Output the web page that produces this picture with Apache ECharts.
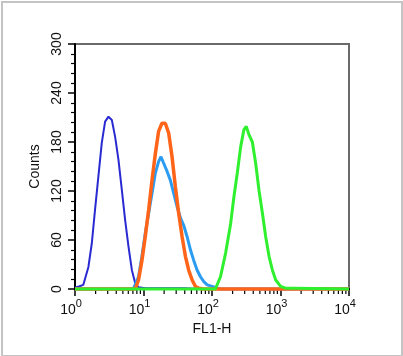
<!DOCTYPE html>
<html>
<head>
<meta charset="utf-8">
<script src="https://cdn.jsdelivr.net/npm/echarts@6/dist/echarts.min.js"></script>
<style>
html,body{margin:0;padding:0;background:#fff;}
#frame{position:absolute;left:1px;top:1px;width:398px;height:352px;border:2px solid #c4c4c4;}
#chart{position:absolute;left:0;top:0;width:403px;height:356px;}
</style>
</head>
<body>
<div id="frame"></div>
<div id="chart"></div>
<script>
// FL1-H channel values (log scale) and counts for each histogram
const darkBlueX = [1.0, 1.14, 1.32, 1.57, 1.76, 1.96, 2.19, 2.46, 2.75, 3.08, 3.45, 3.86, 4.31, 4.83, 5.40, 6.04, 6.77, 7.57, 8.46, 10.6, 20, 40, 70, 10000];
const darkBlueY = [2, 3, 5, 27, 56, 97, 137, 179, 205, 211, 207, 186, 158, 121, 84, 52, 23, 7, 2, 1, 1, 1, 0, 0];

const lightBlueX = [1.0, 7.08, 8.46, 9.49, 10.6, 11.9, 13.3, 14.9, 16.6, 18.0, 19.7, 22.1, 24.7, 27.6, 30.9, 34.6, 38.6, 43.3, 48.4, 54.1, 60.7, 67.9, 75.9, 85.1, 112, 133, 10000];
const lightBlueY = [0, 0, 15, 40, 68, 93, 117, 142, 156, 162, 154, 144, 133, 117, 101, 87, 78, 64, 48, 35, 23, 15, 9, 5, 2, 0, 0];

const orangeX = [1.0, 7.57, 8.46, 9.49, 10.6, 11.9, 13.3, 14.9, 16.6, 18.6, 20.8, 23.3, 26.1, 29.2, 32.6, 36.6, 40.9, 45.7, 51.3, 57.3, 64.1, 75, 10000];
const orangeY = [0, 0, 11, 35, 64, 97, 133, 166, 193, 203, 203, 191, 162, 125, 93, 64, 40, 23, 11, 3, 1, 0, 0];

const greenX = [1.0, 112, 133, 158, 187, 209, 234, 262, 292, 317, 346, 388, 434, 485, 544, 608, 680, 762, 852, 1010, 1194, 1600, 10000];
const greenY = [0, 0, 15, 44, 80, 113, 142, 174, 195, 199, 189, 180, 154, 121, 93, 64, 40, 23, 11, 3, 1, 1, 0];

const yTicks = [0, 60, 120, 180, 240, 300];
const xMinorTicks = [2,3,4,5,6,7,8,9,20,30,40,50,60,70,80,90,200,300,400,500,600,700,800,900,2000,3000,4000,5000,6000,7000,8000,9000];

function pairs(xs, ys) { return xs.map((x, i) => [x, ys[i]]); }

const chart = echarts.init(document.getElementById('chart'), null, {renderer: 'canvas'});
const font = 'Liberation Sans, Arial, sans-serif';

function lineSeries(name, xs, ys, color, width) {
  return {
    name: name, type: 'line', data: pairs(xs, ys), showSymbol: false, symbol: 'none',
    clip: false, animation: false,
    lineStyle: {color: color, width: width}
  };
}

chart.setOption({
  animation: false,
  backgroundColor: 'transparent',
  grid: {left: 75, top: 44, right: 54, bottom: 67, show: true, borderColor: '#6a6a6a', borderWidth: 2, backgroundColor: 'transparent'},
  xAxis: {
    type: 'log', logBase: 10, min: 1, max: 10000,
    name: 'FL1-H', nameLocation: 'middle', nameGap: 29,
    nameTextStyle: {fontFamily: font, fontSize: 14, color: '#111'},
    axisLine: {show: true, lineStyle: {color: '#000', width: 2}},
    axisTick: {show: true, inside: false, length: 7, lineStyle: {color: '#000', width: 1.5}},
    splitLine: {show: false},
    minorTick: {show: false},
    axisLabel: {
      margin: 9,
      fontFamily: font, fontSize: 14, color: '#111',
      padding: [0, 8, 0, 0],
      formatter: function (v) { return '{b|10}{s|' + Math.round(Math.log10(v)) + '}'; },
      rich: {
        b: {fontFamily: font, fontSize: 14, color: '#111', verticalAlign: 'bottom', lineHeight: 19},
        s: {fontFamily: font, fontSize: 11, color: '#111', verticalAlign: 'top', lineHeight: 19, padding: [0, 0, 7, 0]}
      }
    }
  },
  yAxis: {
    type: 'value', min: 0, max: 300, interval: 60,
    name: 'Counts', nameLocation: 'middle', nameGap: 29, nameRotate: 90,
    nameTextStyle: {fontFamily: font, fontSize: 14, color: '#111'},
    axisLine: {show: true, lineStyle: {color: '#000', width: 2}},
    axisTick: {show: true, inside: false, length: 7, lineStyle: {color: '#000', width: 1.5}},
    minorTick: {show: true, splitNumber: 5, length: 4, lineStyle: {color: '#000', width: 1.2}},
    splitLine: {show: false},
    axisLabel: {
      rotate: 90, margin: 11,
      fontFamily: font, fontSize: 14, color: '#111',
      formatter: function (v) { return yTicks.indexOf(v) >= 0 ? String(v) : ''; }
    }
  },
  series: [
    lineSeries('control', darkBlueX, darkBlueY, '#2a2ad2', 2),
    lineSeries('isotype', lightBlueX, lightBlueY, '#2b9cf2', 3),
    lineSeries('orange', orangeX, orangeY, '#ff6418', 3.5),
    lineSeries('antibody', greenX, greenY, '#2ff02f', 3),
    {
      type: 'custom', clip: false, silent: true, z: 1,
      data: xMinorTicks.map(v => [v, 0]),
      renderItem: function (params, api) {
        const p = api.coord([api.value(0), 0]);
        return {type: 'line', shape: {x1: p[0], y1: p[1] + 1, x2: p[0], y2: p[1] + 5}, style: {stroke: '#000', lineWidth: 1.2}};
      }
    }
  ]
});
</script>
</body>
</html>
